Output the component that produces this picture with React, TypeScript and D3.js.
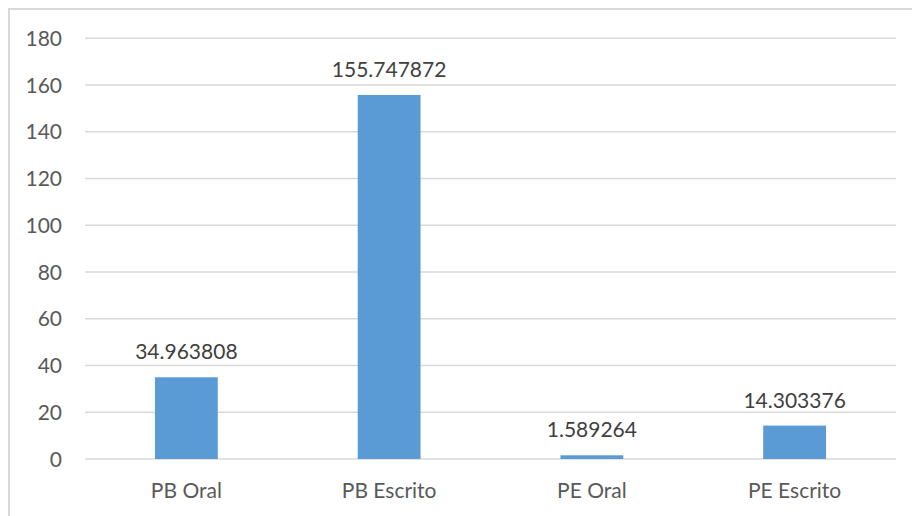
import * as d3 from "d3";

const CATEGORIES = ["PB Oral", "PB Escrito", "PE Oral", "PE Escrito"];
const VALUES = [34.963808, 155.747872, 1.589264, 14.303376];
const TICKS = [0, 20, 40, 60, 80, 100, 120, 140, 160, 180];

const W = 912;
const H = 516;
const FONT = "Lato, 'Open Sans', sans-serif";
const TEXT = "#595959";
const GRID = "#d9d9d9";

export default function App() {
  const x = d3
    .scaleBand<string>()
    .domain(CATEGORIES)
    .range([85, 896])
    .paddingInner(0.69)
    .paddingOuter(0.345);
  const y = d3.scaleLinear().domain([0, 180]).range([459, 38.3]);

  return (
    <svg
      width={W}
      height={H}
      style={{ position: "absolute", left: 0, top: 0, background: "#fff" }}
      fontFamily={FONT}
    >
      {/* chart area border, only left and top visible in frame */}
      <rect x={9} y={9} width={W + 20} height={H + 20} fill="none" stroke={GRID} strokeWidth={2} />

      {TICKS.map((t) => (
        <g key={t}>
          <line x1={85} x2={896} y1={y(t)} y2={y(t)} stroke={GRID} strokeWidth={1.5} />
          <text x={62} y={y(t)} dy="0.36em" textAnchor="end" fontSize={21} fill={TEXT}>
            {t}
          </text>
        </g>
      ))}

      {CATEGORIES.map((c, i) => {
        const bx = x(c) ?? 0;
        const top = y(VALUES[i]);
        return (
          <g key={c}>
            <rect x={bx} y={top} width={x.bandwidth()} height={y(0) - top} fill="#5b9bd5" />
            <text
              x={bx + x.bandwidth() / 2}
              y={top - 18}
              textAnchor="middle"
              fontSize={21}
              fill="#404040"
            >
              {VALUES[i]}
            </text>
            <text x={bx + x.bandwidth() / 2} y={497.5} textAnchor="middle" fontSize={21} fill={TEXT}>
              {c}
            </text>
          </g>
        );
      })}
    </svg>
  );
}
